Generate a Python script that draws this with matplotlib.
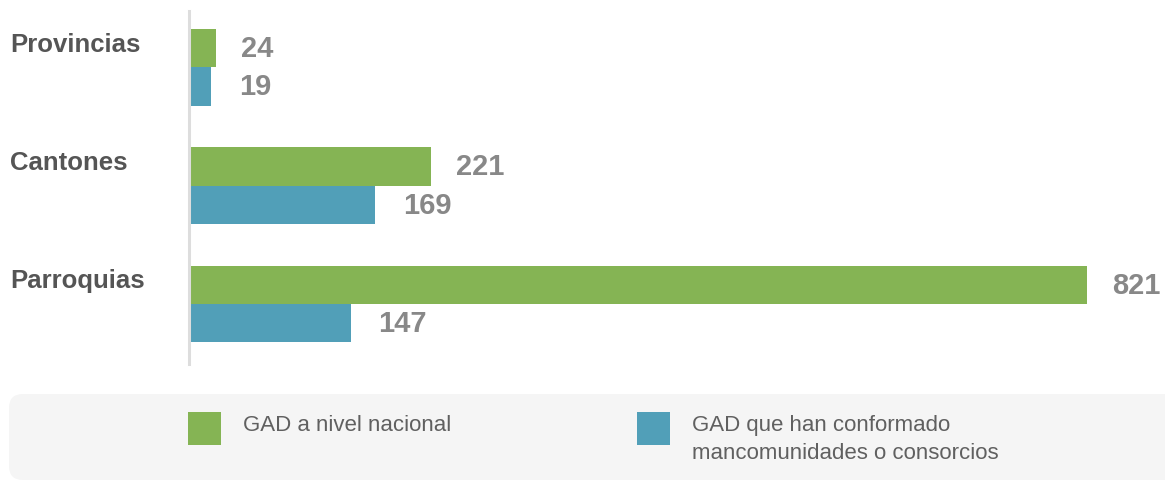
import matplotlib
matplotlib.use("Agg")
import matplotlib.pyplot as plt
from matplotlib.patches import FancyBboxPatch, Rectangle
from matplotlib import font_manager as fm

categories = ["Provincias", "Cantones", "Parroquias"]
nacional = [24, 221, 821]
mancomunidades = [19, 169, 147]
legend_labels = ["GAD a nivel nacional", "GAD que han conformado\nmancomunidades o consorcios"]

GREEN = "#85b454"
BLUE = "#519fb8"

names = {f.name for f in fm.fontManager.ttflist}
FONT = "Liberation Sans Narrow" if "Liberation Sans Narrow" in names else "Liberation Sans"
plt.rcParams["font.family"] = [FONT, "DejaVu Sans"]

W, H = 1165, 481
fig = plt.figure(figsize=(W / 100, H / 100), dpi=100)

# axes: x from 190px to 1087px; y from 12px to 365px
ax = fig.add_axes([190 / W, 1 - 365 / H, (1087 - 190) / W, (365 - 12) / H])
spacing = 118.5
bh = 38.5 / spacing
top = (12 - 68) / spacing
bot = (365 - 68) / spacing
ax.set_ylim(bot, top)
ax.set_xlim(0, 821)

ys = list(range(len(categories)))
ax.barh([y - bh / 2 for y in ys], nacional, height=bh, color=GREEN, linewidth=0)
ax.barh([y + bh / 2 for y in ys], mancomunidades, height=bh, color=BLUE, linewidth=0)

for y, v in zip(ys, nacional):
    ax.annotate(str(v), (v, y - bh / 2), xytext=(25, 0), textcoords="offset pixels",
                ha="left", va="center", fontsize=21, fontweight="bold", color="#888888",
                annotation_clip=False)
for y, v in zip(ys, mancomunidades):
    ax.annotate(str(v), (v, y + bh / 2), xytext=(28, 0), textcoords="offset pixels",
                ha="left", va="center", fontsize=21, fontweight="bold", color="#888888",
                annotation_clip=False)

for y, c in zip(ys, categories):
    ax.annotate(c, (0, y - bh), xytext=(-180, -3), textcoords="offset pixels",
                ha="left", va="top", fontsize=18.5, fontweight="bold", color="#555555",
                annotation_clip=False)

for s in ["top", "right", "bottom"]:
    ax.spines[s].set_visible(False)
ax.spines["left"].set_color("#dddddd")
ax.spines["left"].set_linewidth(2.2)
ax.spines["left"].set_position(("outward", 1))
ax.set_xticks([])
ax.set_yticks([])

# legend box
box = FancyBboxPatch((9 / W, 0), (W + 20 - 9) / W, (481 - 395) / H,
                     boxstyle="round,pad=0,rounding_size=0.012",
                     transform=fig.transFigure, facecolor="#f5f5f5", edgecolor="none",
                     mutation_aspect=W / H, zorder=0)
fig.patches.append(box)

sq = [(188, GREEN), (637, BLUE)]
for (x0, col), lab in zip(sq, legend_labels):
    fig.patches.append(Rectangle((x0 / W, 1 - 446 / H), 33 / W, 33 / H,
                                 transform=fig.transFigure, facecolor=col, edgecolor="none"))
    fig.text((x0 + 55) / W, 1 - 415 / H, lab, ha="left", va="top", fontsize=16,
             color="#606060", linespacing=1.45)

fig.savefig("out.png", dpi=100)
